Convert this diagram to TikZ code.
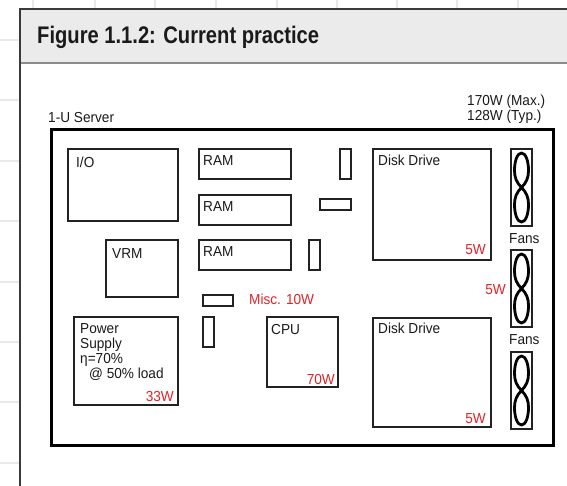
\documentclass[tikz,border=0pt]{standalone}
\usepackage{fontspec}
\setmainfont{Liberation Sans}[FakeStretch=0.94]
\newfontfamily\titlefont{Liberation Sans}[FakeStretch=0.84]
\definecolor{gridc}{HTML}{E9E9E9}
\definecolor{hdr}{HTML}{EBEBEB}
\definecolor{panelc}{HTML}{3A3A3A}
\definecolor{hdrline}{HTML}{8C8C8C}
\definecolor{boxc}{HTML}{222222}
\definecolor{wred}{HTML}{E32227}
\definecolor{txtc}{HTML}{1A1A1A}
\begin{document}
\begin{tikzpicture}[x=1pt,y=-1pt,
  comp/.style={draw=boxc, line width=1.6pt, inner sep=0pt, outer sep=0pt, anchor=north west},
  fanbox/.style={draw=boxc, line width=1.4pt, inner sep=0pt, outer sep=0pt, anchor=north west, minimum width=21pt, minimum height=77pt},
  txt/.style={font=\fontsize{14.5}{15}\selectfont, text=txtc, inner sep=0pt, anchor=base west},
  watt/.style={font=\fontsize{14.5}{15}\selectfont, text=wred, inner sep=0pt, anchor=base east},
  pics/eightfan/.style={code={
    \draw[line width=2.8pt, black, line join=round]
      (0,0) .. controls (5,-5) and (7,-10) .. (7,-17)
            .. controls (7,-27) and (4,-34.5) .. (0,-34.5)
            .. controls (-4,-34.5) and (-7,-27) .. (-7,-17)
            .. controls (-7,-10) and (-5,-5) .. (0,0)
            .. controls (5,5) and (7,10) .. (7,17)
            .. controls (7,27) and (4,34.5) .. (0,34.5)
            .. controls (-4,34.5) and (-7,27) .. (-7,17)
            .. controls (-7,10) and (-5,5) .. (0,0) -- cycle;
  }}
]
\useasboundingbox (0,0) rectangle (567,485);
\fill[white] (0,0) rectangle (567,485);
% background grid
\foreach \gx in {33,95,155,216,277,337,397,457,518}
  \draw[gridc, line width=2pt] (\gx,0) -- (\gx,485);
\foreach \gy in {40,100.4,160.8,221.2,281.6,342,402.4,462.8}
  \draw[gridc, line width=2pt] (0,\gy) -- (567,\gy);
% panel
\fill[white] (20,9) rectangle (580,500);
\fill[hdr] (20,9) rectangle (580,63);
\draw[hdrline, line width=1.6pt] (20,63) -- (580,63);
\draw[panelc, line width=1.4pt] (580,9) -- (20,9) -- (20,500);
\node[font=\titlefont\bfseries\fontsize{24}{28}\selectfont, text=txtc, inner sep=0pt, anchor=base west] (title) at (37,43) {Figure 1.1.2: Current practice};

% server chassis
\node[draw=black, line width=3.5pt, inner sep=0pt, outer sep=0pt, anchor=north west, minimum width=502pt, minimum height=316pt] (server) at (51.5,129.5) {};
\node[txt] (serverlbl) at (48,122) {1-U Server};
\node[txt, anchor=north west, align=left] (power) at (467,94.5) {170W (Max.)\\128W (Typ.)};

% components
\node[comp, minimum width=110pt, minimum height=72pt] (io) at (68,149) {};
\node[txt] (iolbl) at (76,167) {I/O};
\node[comp, minimum width=92pt, minimum height=30pt] (ram1) at (199,149) {};
\node[txt] (ram1lbl) at (203,165) {RAM};
\node[comp, minimum width=92pt, minimum height=30pt] (ram2) at (199,195) {};
\node[txt] (ram2lbl) at (203,211) {RAM};
\node[comp, minimum width=92pt, minimum height=30pt] (ram3) at (199,240) {};
\node[txt] (ram3lbl) at (203,256) {RAM};
\node[comp, minimum width=72pt, minimum height=57pt] (vrm) at (106,240) {};
\node[txt] (vrmlbl) at (112,258) {VRM};

\node[comp, minimum width=11pt, minimum height=30pt] (sv1) at (340,149) {};
\node[comp, minimum width=31pt, minimum height=11pt] (sh1) at (320,199) {};
\node[comp, minimum width=11pt, minimum height=30pt] (sv2) at (309,240) {};
\node[comp, minimum width=30pt, minimum height=11pt] (sh2) at (203,295) {};
\node[comp, minimum width=11pt, minimum height=30pt] (sv3) at (203,317) {};
\node[txt, text=wred] (misc) at (249,304) {Misc. 10W};

\node[comp, minimum width=104pt, minimum height=88pt] (psu) at (74,317) {};
\node[txt, anchor=north west, align=left] (psulbl) at (80,323.5) {Power\\Supply\\η=70\%\\\hspace*{9pt}@ 50\% load};
\node[watt] (psuw) at (174,401) {33W};

\node[comp, minimum width=71pt, minimum height=70pt] (cpu) at (267,317) {};
\node[txt] (cpulbl) at (271,334) {CPU};
\node[watt] (cpuw) at (335,384) {70W};

\node[comp, minimum width=118pt, minimum height=111pt] (disk1) at (373,149) {};
\node[txt] (disk1lbl) at (378,165) {Disk Drive};
\node[watt] (disk1w) at (486,254) {5W};
\node[comp, minimum width=118pt, minimum height=109pt] (disk2) at (373,318) {};
\node[txt] (disk2lbl) at (378,333) {Disk Drive};
\node[watt] (disk2w) at (486,423) {5W};

% fans
\node[fanbox] (fan1) at (511,149) {};
\pic at (fan1.center) {eightfan};
\node[txt] (fans1lbl) at (509,243) {Fans};
\node[fanbox] (fan2) at (511,250) {};
\pic at (fan2.center) {eightfan};
\node[watt] (fanw) at (506,294) {5W};
\node[txt] (fans2lbl) at (509,344) {Fans};
\node[fanbox] (fan3) at (511,352) {};
\pic at (fan3.center) {eightfan};
\end{tikzpicture}
\end{document}
